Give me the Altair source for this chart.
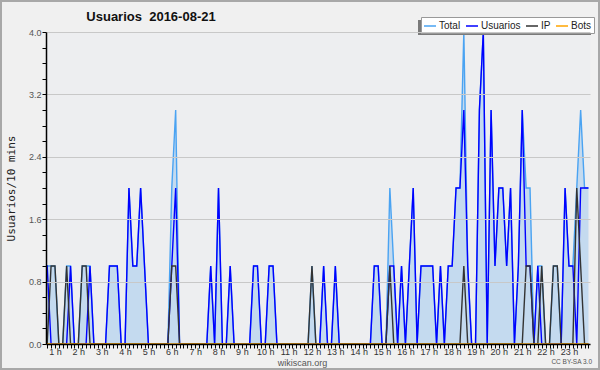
import altair as alt
import pandas as pd

# 10-minute slots of the day (0 = 00:00 ... 143 = 23:50)
slots = list(range(144))

total = [
    0, 0, 0, 1, 1, 1, 1, 0, 0, 1, 1, 0,
    0, 1, 1, 1, 0, 0, 0, 0, 1, 1, 1, 0,
    0, 2, 1, 1, 2, 1, 0, 0, 0, 0, 0, 0,
    2, 3, 0, 0, 0, 0, 0, 0, 0, 0, 1, 0,
    2, 0, 0, 1, 0, 0, 0, 0, 0, 1, 1, 0,
    0, 1, 1, 0, 0, 0, 0, 0, 0, 0, 0, 0,
    1, 0, 0, 1, 0, 0, 1, 0, 0, 0, 0, 0,
    0, 0, 0, 0, 1, 1, 0, 0, 2, 1, 0, 1,
    0, 1, 2, 0, 1, 1, 1, 1, 0, 1, 0, 1,
    1, 2, 2, 4, 1, 0, 0, 3, 4, 0, 3, 1,
    2, 2, 1, 2, 0, 1, 3, 2, 2, 0, 1, 1,
    0, 0, 1, 1, 0, 2, 1, 1, 2, 3, 2, 2,
]
usuarios = [
    0, 0, 0, 1, 1, 0, 0, 0, 0, 0, 1, 0,
    0, 0, 0, 1, 0, 0, 0, 0, 1, 1, 1, 0,
    0, 2, 1, 1, 2, 1, 0, 0, 0, 0, 0, 0,
    1, 2, 0, 0, 0, 0, 0, 0, 0, 0, 1, 0,
    2, 0, 0, 1, 0, 0, 0, 0, 0, 1, 1, 0,
    0, 1, 1, 0, 0, 0, 0, 0, 0, 0, 0, 0,
    0, 0, 0, 1, 0, 0, 1, 0, 0, 0, 0, 0,
    0, 0, 0, 0, 1, 1, 0, 0, 1, 1, 0, 1,
    0, 1, 2, 0, 1, 1, 1, 1, 0, 1, 0, 1,
    1, 2, 2, 3, 1, 0, 0, 3, 4, 0, 3, 1,
    2, 2, 1, 2, 0, 1, 3, 1, 1, 0, 1, 0,
    0, 0, 0, 0, 0, 2, 1, 1, 0, 2, 2, 2,
]
ip = [
    0, 0, 0, 0, 0, 1, 1, 0, 0, 1, 0, 0,
    0, 1, 1, 0, 0, 0, 0, 0, 0, 0, 0, 0,
    0, 0, 0, 0, 0, 0, 0, 0, 0, 0, 0, 0,
    1, 1, 0, 0, 0, 0, 0, 0, 0, 0, 0, 0,
    0, 0, 0, 0, 0, 0, 0, 0, 0, 0, 0, 0,
    0, 0, 0, 0, 0, 0, 0, 0, 0, 0, 0, 0,
    1, 0, 0, 0, 0, 0, 0, 0, 0, 0, 0, 0,
    0, 0, 0, 0, 0, 0, 0, 0, 1, 0, 0, 0,
    0, 0, 0, 0, 0, 0, 0, 0, 0, 0, 0, 0,
    0, 0, 0, 1, 0, 0, 0, 0, 0, 0, 0, 0,
    0, 0, 0, 0, 0, 0, 0, 1, 1, 0, 0, 1,
    0, 0, 1, 1, 0, 0, 0, 0, 2, 1, 0, 0,
]
bots = [
    0, 0, 0, 0, 0, 0, 0, 0, 0, 0, 0, 0,
    0, 0, 0, 0, 0, 0, 0, 0, 0, 0, 0, 0,
    0, 0, 0, 0, 0, 0, 0, 0, 0, 0, 0, 0,
    0, 0, 0, 0, 0, 0, 0, 0, 0, 0, 0, 0,
    0, 0, 0, 0, 0, 0, 0, 0, 0, 0, 0, 0,
    0, 0, 0, 0, 0, 0, 0, 0, 0, 0, 0, 0,
    0, 0, 0, 0, 0, 0, 0, 0, 0, 0, 0, 0,
    0, 0, 0, 0, 0, 0, 0, 0, 0, 0, 0, 0,
    0, 0, 0, 0, 0, 0, 0, 0, 0, 0, 0, 0,
    0, 0, 0, 0, 0, 0, 0, 0, 0, 0, 0, 0,
    0, 0, 0, 0, 0, 0, 0, 0, 0, 0, 0, 0,
    0, 0, 0, 0, 0, 0, 0, 0, 0, 0, 0, 0,
]

series_names = ["Total", "Usuarios", "IP", "Bots"]
series_colors = ["#4aa3f2", "#0000ff", "#333333", "#ffa500"]
y_ticks = [0.0, 0.2, 0.4, 0.6, 0.8, 1.0, 1.2, 1.4, 1.6, 1.8, 2.0,
           2.2, 2.4, 2.6, 2.8, 3.0, 3.2, 3.4, 3.6, 3.8, 4.0]
x_ticks = list(range(4, 144))
title_text = "Usuarios\u00a0\u00a02016-08-21"
credit_text = "CC BY-SA 3.0"

rows = []
for i, (name, vals) in enumerate(zip(series_names, [total, usuarios, ip, bots])):
    for s, v in zip(slots, vals):
        rows.append({"slot": s, "value": v, "series": name, "order": i})
df = pd.DataFrame(rows)

FONT = "Liberation Sans"

xscale = alt.Scale(domain=[3.7, 143.4], nice=False, zero=False)
yscale = alt.Scale(domain=[0, 4], nice=False)

x_axis = alt.Axis(
    values=x_ticks,
    labelExpr="datum.value % 6 == 0 ? (datum.value / 6) + ' h' : ''",
    labelOverlap=False, labelFlush=False,
    labelFont=FONT, labelFontSize=9, labelColor="#333333", labelPadding=-1,
    tickSize=4, tickColor="#000000", tickWidth=1,
    domainColor="#000000", domainWidth=1.5,
    grid=False, zindex=1,
    title="wikiscan.org", titleFont=FONT, titleFontSize=9,
    titleFontWeight="normal", titleColor="#555555",
    titleX=256, titleY=21, titleBaseline="alphabetic", titleAlign="center",
)
y_axis = alt.Axis(
    values=y_ticks,
    labelExpr="abs(datum.value / 0.8 - round(datum.value / 0.8)) < 0.01 ? format(datum.value, '.1f') : ''",
    labelOverlap=False, labelFlush=False,
    labelFont=FONT, labelFontSize=9, labelColor="#555555", labelPadding=1,
    tickSize=4, tickColor="#000000", tickWidth=1,
    domainColor="#000000", domainWidth=1.5,
    grid=True, gridColor="#c8c8c8", gridWidth=1,
    gridOpacity={"condition": {"test": "abs(datum.value / 0.8 - round(datum.value / 0.8)) < 0.01", "value": 1}, "value": 0},
    zindex=1,
    title="Usuarios/10 mins", titleFont="DejaVu Sans Mono", titleFontSize=11,
    titleFontWeight="normal", titleColor="#222222",
    titleX=-35, titleY=156, titleAngle=270, titleAlign="center", titleBaseline="middle",
)

base = alt.Chart(df).encode(
    x=alt.X("slot:Q", scale=xscale, axis=x_axis),
    y=alt.Y("value:Q", scale=yscale, axis=y_axis),
)

area = base.transform_filter("datum.series == 'Total'").mark_area(
    color="#a9cdee", opacity=0.6, clip=True, interpolate="linear"
)

lines = base.mark_line(clip=True, strokeWidth=1.4).encode(
    color=alt.Color(
        "series:N",
        scale=alt.Scale(domain=series_names, range=series_colors),
        sort=series_names,
        legend=alt.Legend(
            title=None, orient="none", legendX=375, legendY=-15,
            direction="horizontal", columns=4, symbolType="stroke",
            symbolSize=144, symbolStrokeWidth=1.5, labelFont=FONT,
            labelFontSize=10, labelColor="#222222", labelOffset=2,
            columnPadding=2, padding=2, fillColor="#ffffff",
            strokeColor="#999999",
        ),
    ),
    order=alt.Order("order:Q"),
)

# legend drop shadow (decoration)
shadow = alt.Chart(pd.DataFrame({"t": [0]})).mark_rect(
    color="#7a7a7a"
).encode(x=alt.value(372), x2=alt.value(545), y=alt.value(-12), y2=alt.value(3))

title = alt.Chart(pd.DataFrame({"t": [title_text]})).mark_text(
    align="center", baseline="alphabetic", font=FONT, fontSize=13,
    fontWeight="bold", color="#111111"
).encode(x=alt.value(105), y=alt.value(-11), text="t:N")

credit = alt.Chart(pd.DataFrame({"t": [credit_text]})).mark_text(
    align="right", baseline="alphabetic", font=FONT, fontSize=6.5, color="#555555"
).encode(x=alt.value(546), y=alt.value(332), text="t:N")

frame = alt.Chart(pd.DataFrame({"t": [0]})).mark_rect(
    filled=False, stroke="#a8a8a8", strokeWidth=2
).encode(x=alt.value(-45), x2=alt.value(553), y=alt.value(-31), y2=alt.value(337))

chart = alt.layer(area, lines, shadow, title, credit, frame).properties(
    width=544, height=312,
    autosize=alt.AutoSizeParams(type="none"),
    padding={"left": 46, "top": 32, "right": 10, "bottom": 26},
    background="#f0f0f0",
).configure_view(stroke="transparent", fill="#edeef0")

chart.save("out.html", embed_options={"renderer": "svg", "actions": False})
